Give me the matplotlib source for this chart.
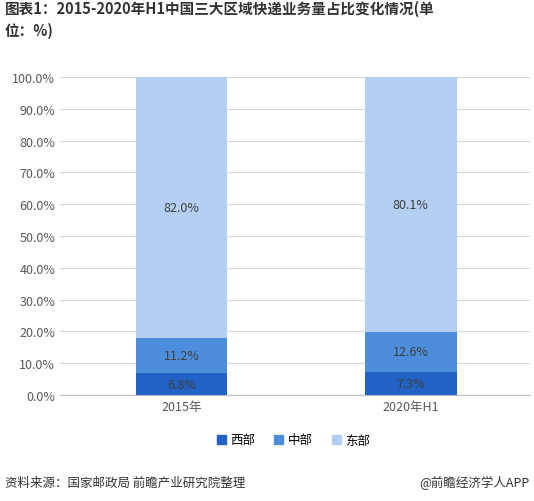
import matplotlib
matplotlib.use("Agg")
import matplotlib.pyplot as plt
import numpy as np

plt.rcParams['font.family'] = ['Noto Sans CJK SC', 'DejaVu Sans']

categories = ["2015年", "2020年H1"]
west = [6.8, 7.3]
middle = [11.2, 12.6]
east = [82.0, 80.1]
series_names = ["西部", "中部", "东部"]
colors = ["#2162C4", "#4C8EDB", "#B4CFF2"]

fig = plt.figure(figsize=(5.34, 5.02), dpi=100)
ax = fig.add_axes([60/534, 1-396/502, 470/534, 318/502])
x = np.arange(len(categories))
w = 0.4
bottom = np.zeros(2)
for vals, c in zip([west, middle, east], colors):
    ax.bar(x, vals, w, bottom=bottom, color=c, zorder=3)
    for xi, b, v in zip(x, bottom, vals):
        ax.text(xi, b + v/2, f"{v:.1f}%", ha='center', va='center', fontsize=9, color='#404040', zorder=4)
    bottom += np.array(vals)

ax.set_xlim(-0.53, 1.52)
ax.set_ylim(0, 100)
ax.set_yticks(np.arange(0, 101, 10))
ax.set_yticklabels([f"{v:.1f}%" for v in range(0, 101, 10)], fontsize=9, color='#595959')
ax.set_xticks(x)
ax.set_xticklabels(categories, fontsize=9, color='#595959')
ax.tick_params(length=0)
ax.yaxis.grid(True, color='#D9D9D9', linewidth=0.8, zorder=0)
for s in ['top', 'right', 'left']:
    ax.spines[s].set_visible(False)
ax.spines['bottom'].set_color('#BFBFBF')

handles = [plt.Rectangle((0, 0), 1, 1, color=c) for c in colors]
fig.legend(handles, series_names, loc='center', bbox_to_anchor=(0.55, 1-441/502), ncol=3,
           frameon=False, fontsize=9, handlelength=0.7, handleheight=0.7, columnspacing=1.5, handletextpad=0.4)

fig.text(5/534, 1-20/502, "图表1：2015-2020年H1中国三大区域快递业务量占比变化情况(单\n位：%)",
         fontsize=10.5, fontweight='bold', color='#333333', va='center', ha='left', linespacing=1.4)
fig.text(5/534, 1-483/502, "资料来源：国家邮政局 前瞻产业研究院整理", fontsize=9, color='#333333', va='center')
fig.text(530/534, 1-483/502, "@前瞻经济学人APP", fontsize=9, color='#333333', va='center', ha='right')

fig.savefig("out.png", dpi=100)
